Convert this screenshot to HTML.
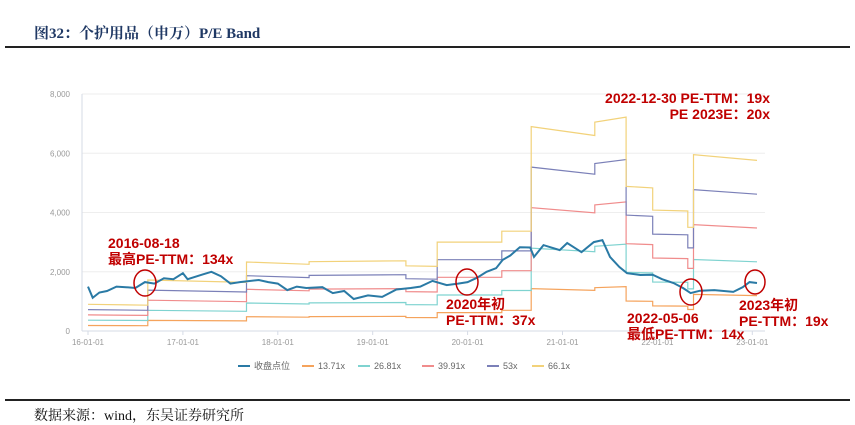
<!DOCTYPE html>
<html><head><meta charset="utf-8"><style>
body{margin:0;background:#fff;width:855px;height:424px;overflow:hidden;position:relative;font-family:"Liberation Sans","Noto Sans CJK SC",sans-serif}
.t{position:absolute;white-space:nowrap}
.ann{position:absolute;color:#c00000;font-weight:bold;font-size:14px;line-height:16px;white-space:nowrap}
</style></head><body>
<div class="t" style="left:34px;top:22px;font:bold 15px 'Liberation Serif','Noto Serif CJK SC',serif;color:#1f3864">图32：个护用品（申万）P/E Band</div>
<div style="position:absolute;left:5px;top:46px;width:845px;height:2px;background:#222"></div>
<div style="position:absolute;left:5px;top:399px;width:845px;height:2px;background:#222"></div>
<div class="t" style="left:34px;top:405px;font:14px 'Liberation Serif','Noto Serif CJK SC',serif;color:#111">数据来源：wind，东吴证券研究所</div>
<svg id="chart" width="855" height="424" style="position:absolute;left:0;top:0"></svg>
<div class="ann" style="left:108px;top:235px">2016-08-18<br>最高PE-TTM：134x</div>
<div class="ann" style="right:85px;top:90px;text-align:right">2022-12-30 PE-TTM：19x<br>PE 2023E：20x</div>
<div class="ann" style="left:446px;top:296px">2020年初<br>PE-TTM：37x</div>
<div class="ann" style="left:627px;top:310px">2022-05-06<br>最低PE-TTM：14x</div>
<div class="ann" style="left:739px;top:297px">2023年初<br>PE-TTM：19x</div>
<script>
const yTicks=[0,2000,4000,6000,8000];
const xTicks=[2016,2017,2018,2019,2020,2021,2022,2023];
const xTickLabels=["16-01-01","17-01-01","18-01-01","19-01-01","20-01-01","21-01-01","22-01-01","23-01-01"];
const multiples=[13.71,26.81,39.91,53,66.1];
const bandNames=["13.71x","26.81x","39.91x","53x","66.1x"];
// 66.1x band segments: start, end, value at start, value at end
const segStart=[2016.0,2016.63,2017.67,2018.33,2019.35,2019.68,2020.36,2020.67,2021.34,2021.67,2021.95,2022.32,2022.38];
const segEnd=[2016.63,2017.67,2018.33,2019.35,2019.68,2020.36,2020.67,2021.34,2021.67,2021.95,2022.32,2022.38,2023.05];
const segV0=[900,1720,2330,2340,2200,3000,3370,6900,7050,4880,4080,3500,5950];
const segV1=[870,1640,2250,2370,2180,3000,3370,6600,7220,4830,4050,3500,5760];
const priceDates=[2016.0,2016.05,2016.12,2016.2,2016.3,2016.4,2016.5,2016.6,2016.7,2016.8,2016.9,2017.0,2017.05,2017.2,2017.3,2017.4,2017.5,2017.6,2017.8,2017.9,2018.0,2018.1,2018.2,2018.3,2018.47,2018.58,2018.7,2018.8,2018.95,2019.1,2019.25,2019.4,2019.5,2019.63,2019.78,2019.9,2020.0,2020.1,2020.2,2020.3,2020.37,2020.45,2020.55,2020.66,2020.7,2020.8,2020.97,2021.05,2021.2,2021.33,2021.42,2021.5,2021.6,2021.68,2021.82,2021.95,2022.05,2022.17,2022.27,2022.35,2022.45,2022.6,2022.8,2022.9,2022.97,2023.05];
const priceVals=[1500,1120,1300,1350,1500,1480,1450,1650,1600,1780,1750,1950,1750,1900,2000,1850,1600,1650,1720,1650,1600,1380,1500,1450,1480,1280,1350,1080,1200,1150,1400,1450,1500,1690,1550,1600,1650,1800,2000,2120,2400,2550,2830,2820,2500,2900,2730,2970,2660,3000,3070,2500,2160,1950,1890,1900,1750,1620,1450,1280,1360,1380,1320,1480,1650,1620];
const colors=["#f5a35c","#7fd3d0","#f08c8c","#7b80b8","#f2d27a"];
const X=t=>88+(t-2016)*94.9, Y=v=>331-v*237/8000;
const svg=document.getElementById('chart'),NS="http://www.w3.org/2000/svg";
function mk(tag,at,txt){const e=document.createElementNS(NS,tag);for(const k in at)e.setAttribute(k,at[k]);if(txt!=null)e.textContent=txt;svg.appendChild(e);return e;}
yTicks.forEach(v=>{
 const g=mk('line',{x1:82,x2:765,y1:Y(v),y2:Y(v),stroke:v?'#eeeeee':'#d6dbe6','stroke-width':1});
 
 
 const l=mk('text',{x:70,y:Y(v)+3,'text-anchor':'end','font-size':8,fill:'#999','font-family':'Liberation Sans'},v.toLocaleString('en-US'));
 
 
});
const ax=mk('line',{x1:82,x2:82,y1:Y(8000),y2:Y(0),stroke:'#d6dbe6'});


xTicks.forEach((t,i)=>{
 const k=mk('line',{x1:X(t),x2:X(t),y1:331,y2:335,stroke:'#d6dbe6'});
 
 
 const l=mk('text',{x:X(t),y:345,'text-anchor':'middle','font-size':8,fill:'#999','font-family':'Liberation Sans'},xTickLabels[i]);
 
 
});
multiples.forEach((m,bi)=>{
 let d='';
 segStart.forEach((s,i)=>{
  const a=segV0[i]*m/66.1,b=segV1[i]*m/66.1;
  d+=(i?'L':'M')+X(s).toFixed(1)+','+Y(a).toFixed(1)+'L'+X(segEnd[i]).toFixed(1)+','+Y(b).toFixed(1);
 });
 const p=mk('path',{d:d,fill:'none',stroke:colors[bi],'stroke-width':1.2});
 
 
});
const pd=priceDates.map((t,i)=>(i?'L':'M')+X(t).toFixed(1)+','+Y(priceVals[i]).toFixed(1)).join('');
const pl=mk('path',{d:pd,fill:'none',stroke:'#2a7aa5','stroke-width':2});


[[145,283,11,13],[467,282,11,13],[691,292,11,13],[755,282,10,12]].forEach(c=>{
 const e=mk('ellipse',{cx:c[0],cy:c[1],rx:c[2],ry:c[3],fill:'none',stroke:'#c00000','stroke-width':1.5});
 
 
});
const legNames=["收盘点位"].concat(bandNames),legColors=["#2a7aa5"].concat(colors),legX=[238,302,358,422,487,532];
legNames.forEach((n,i)=>{
 const l=mk('line',{x1:legX[i],x2:legX[i]+12,y1:366,y2:366,stroke:legColors[i],'stroke-width':2});
 
 
 const t=mk('text',{x:legX[i]+16,y:369,'font-size':9,fill:'#666','font-family':'Liberation Sans, Noto Sans CJK SC, sans-serif'},n);
 
 
});
</script>
</body></html>
